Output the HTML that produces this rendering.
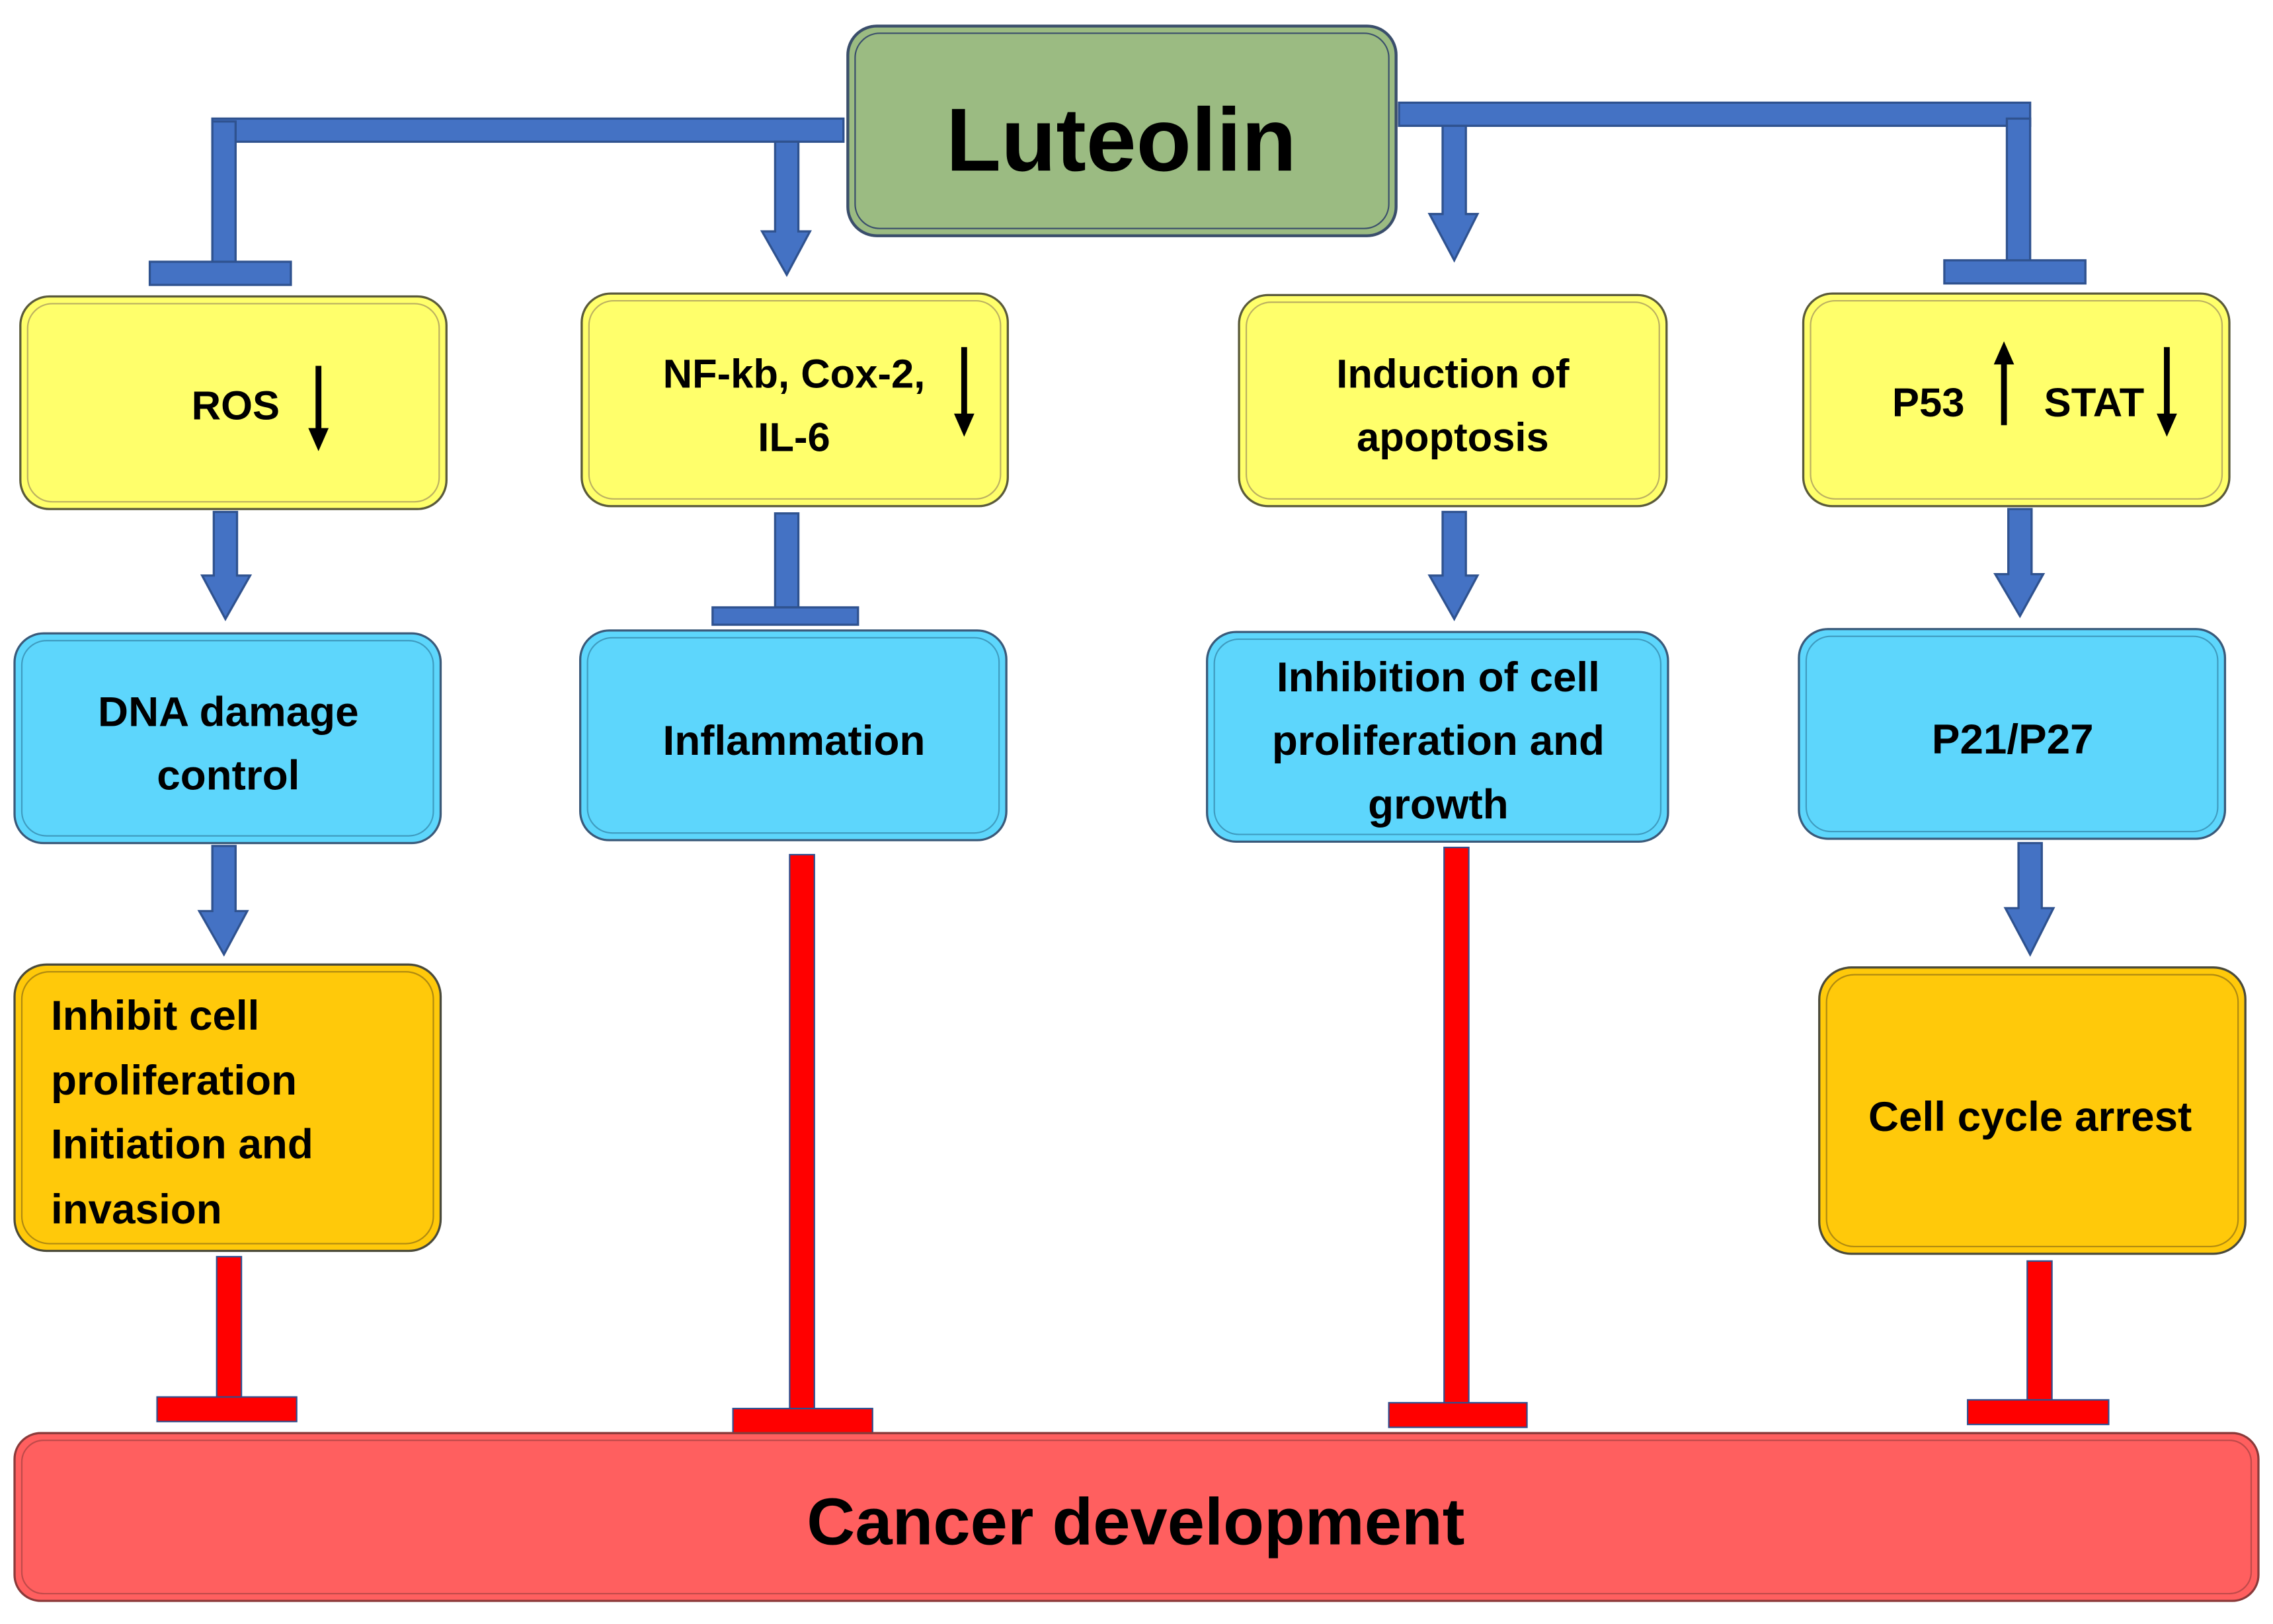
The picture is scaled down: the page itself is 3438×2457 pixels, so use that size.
<!DOCTYPE html>
<html><head><meta charset="utf-8"><style>
html,body{margin:0;padding:0;background:#fff;}
svg{display:block;}
text{font-family:"Liberation Sans",sans-serif;font-weight:bold;fill:#000;}
</style></head><body>
<svg width="3438" height="2457" viewBox="0 0 1563 1123" preserveAspectRatio="none" xmlns="http://www.w3.org/2000/svg">
<g stroke="#2F528F" stroke-width="1.5" fill="#4472C4">
<rect x="146" y="82" width="434" height="16"/>
<rect x="146" y="84" width="16" height="98"/>
<rect x="103" y="181" width="97" height="16"/>
<path d="M533,98 H549 V160 H557 L541,190 L524,160 H533 Z"/>
<rect x="962" y="71" width="434" height="16"/>
<rect x="1380" y="82" width="16" height="99"/>
<rect x="1337" y="180" width="97" height="16"/>
<path d="M992,87 H1008 V148 H1016 L1000,180 L983,148 H992 Z"/>
<path d="M147,354 H163 V398 H172 L155,428 L139,398 H147 Z"/>
<path d="M992,354 H1008 V398 H1016 L1000,428 L983,398 H992 Z"/>
<path d="M1381,352 H1397 V397 H1405 L1389,426 L1372,397 H1381 Z"/>
<rect x="533" y="355" width="16" height="65"/>
<rect x="490" y="420" width="100" height="12"/>
<path d="M146,585 H162 V630 H170 L154,660 L137,630 H146 Z"/>
<path d="M1388,583 H1404 V628 H1412 L1396,660 L1379,628 H1388 Z"/>
</g>
<rect x="583" y="18" width="377" height="145" rx="20" fill="#9BBB82" stroke="#3A4E6B" stroke-width="2"/>
<rect x="588" y="23" width="367" height="135" rx="17" fill="none" stroke="#3A4E6B" stroke-width="1"/>
<text x="771" y="118" font-size="62" text-anchor="middle">Luteolin</text>
<g fill="#FFFF6B" stroke="#5A5A3A" stroke-width="1.5">
<rect x="14" y="205" width="293" height="147" rx="20"/>
<rect x="400" y="203" width="293" height="147" rx="20"/>
<rect x="852" y="204" width="294" height="146" rx="20"/>
<rect x="1240" y="203" width="293" height="147" rx="20"/>
</g>
<g fill="none" stroke="#BBB060" stroke-width="1">
<rect x="19" y="210" width="283" height="137" rx="17"/>
<rect x="405" y="208" width="283" height="137" rx="17"/>
<rect x="857" y="209" width="284" height="136" rx="17"/>
<rect x="1245" y="208" width="283" height="137" rx="17"/>
</g>
<text x="162" y="290" font-size="28" text-anchor="middle">ROS</text>
<text x="546" y="268" font-size="28" text-anchor="middle">NF-kb, Cox-2,</text>
<text x="546" y="312" font-size="28" text-anchor="middle">IL-6</text>
<text x="999" y="268" font-size="28" text-anchor="middle">Induction of</text>
<text x="999" y="312" font-size="28" text-anchor="middle">apoptosis</text>
<text x="1326" y="288" font-size="28" text-anchor="middle">P53</text>
<text x="1440" y="288" font-size="28" text-anchor="middle">STAT</text>
<g stroke="#000" stroke-width="4">
<line x1="219" y1="253" x2="219" y2="298"/>
<line x1="663" y1="240" x2="663" y2="288"/>
<line x1="1490" y1="240" x2="1490" y2="288"/>
<line x1="1378" y1="250" x2="1378" y2="294"/>
</g>
<g fill="#000">
<path d="M212,296 L226,296 L219,312 Z"/>
<path d="M656,286 L670,286 L663,302 Z"/>
<path d="M1483,286 L1497,286 L1490,302 Z"/>
<path d="M1371,252 L1385,252 L1378,236 Z"/>
</g>
<g fill="#5DD6FC" stroke="#3A5A7A" stroke-width="1.5">
<rect x="10" y="438" width="293" height="145" rx="20"/>
<rect x="399" y="436" width="293" height="145" rx="20"/>
<rect x="830" y="437" width="317" height="145" rx="20"/>
<rect x="1237" y="435" width="293" height="145" rx="20"/>
</g>
<g fill="none" stroke="#3F9CC0" stroke-width="1">
<rect x="15" y="443" width="283" height="135" rx="17"/>
<rect x="404" y="441" width="283" height="135" rx="17"/>
<rect x="835" y="442" width="307" height="135" rx="17"/>
<rect x="1242" y="440" width="283" height="135" rx="17"/>
</g>
<text x="157" y="502" font-size="29" text-anchor="middle">DNA damage</text>
<text x="157" y="546" font-size="29" text-anchor="middle">control</text>
<text x="546" y="522" font-size="29" text-anchor="middle">Inflammation</text>
<text x="989" y="478" font-size="29" text-anchor="middle">Inhibition of cell</text>
<text x="989" y="522" font-size="29" text-anchor="middle">proliferation and</text>
<text x="989" y="566" font-size="29" text-anchor="middle">growth</text>
<text x="1384" y="521" font-size="29" text-anchor="middle">P21/P27</text>
<g fill="#FFC90A" stroke="#4A4A3A" stroke-width="1.5">
<rect x="10" y="667" width="293" height="198" rx="22"/>
<rect x="1251" y="669" width="293" height="198" rx="22"/>
</g>
<g fill="none" stroke="#B08A10" stroke-width="1">
<rect x="15" y="672" width="283" height="188" rx="19"/>
<rect x="1256" y="674" width="283" height="188" rx="19"/>
</g>
<text x="35" y="712" font-size="29">Inhibit cell</text>
<text x="35" y="757" font-size="29">proliferation</text>
<text x="35" y="801" font-size="29">Initiation and</text>
<text x="35" y="846" font-size="29">invasion</text>
<text x="1396" y="782" font-size="29" text-anchor="middle">Cell cycle arrest</text>
<g fill="#FF0000" stroke="#2F4F8F" stroke-width="1">
<rect x="149" y="869" width="17" height="99"/>
<rect x="108" y="966" width="96" height="17"/>
<rect x="543" y="591" width="17" height="385"/>
<rect x="504" y="974" width="96" height="17"/>
<rect x="993" y="586" width="17" height="385"/>
<rect x="955" y="970" width="95" height="17"/>
<rect x="1394" y="872" width="17" height="97"/>
<rect x="1353" y="968" width="97" height="17"/>
</g>
<rect x="10" y="991" width="1543" height="116" rx="18" fill="#FF5F5F" stroke="#8A3A3A" stroke-width="1.5"/>
<rect x="15" y="996" width="1533" height="106" rx="15" fill="none" stroke="#C04A4A" stroke-width="1"/>
<text x="781" y="1068" font-size="46" text-anchor="middle">Cancer development</text>
</svg>
</body></html>
